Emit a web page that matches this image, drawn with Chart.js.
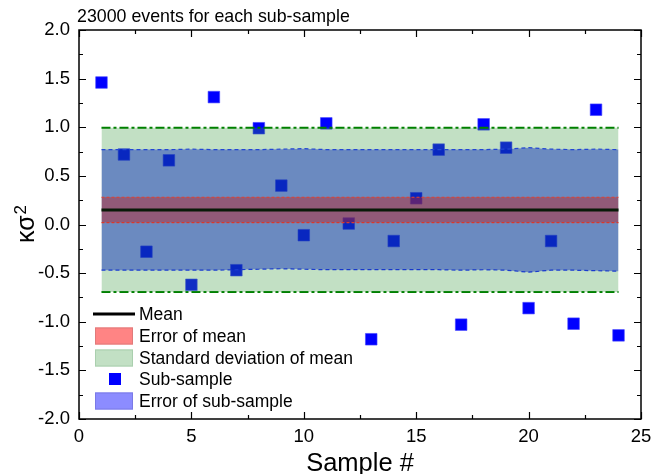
<!DOCTYPE html>
<html>
<head>
<meta charset="utf-8">
<title>kappa sigma^2 sub-samples</title>
<script src="https://cdn.jsdelivr.net/npm/chart.js@4.4.1/dist/chart.umd.min.js"></script>
<style>
  html, body { margin: 0; padding: 0; background: #fff; }
  #wrap { width: 655px; height: 474px; }
</style>
</head>
<body>
<div id="wrap"><canvas id="kappaChart" width="655" height="474"></canvas></div>
<script>
// sub-sample index and the measured kappa*sigma^2 for each one
const sampleNo = [1, 2, 3, 4, 5, 6, 7, 8, 9, 10, 11, 12, 13, 14, 15, 16, 17, 18, 19, 20, 21, 22, 23, 24];
const subSample = [1.46, 0.72, -0.28, 0.66, -0.62, 1.31, -0.47, 0.99, 0.40, -0.11, 1.04, 0.01,
                   -1.18, -0.17, 0.27, 0.77, -1.03, 1.03, 0.79, -0.86, -0.17, -1.02, 1.18, -1.14];

// error band of the sub-samples (upper / lower edge per sample)
const subErrHi = [0.77, 0.77, 0.77, 0.77, 0.775, 0.77, 0.77, 0.77, 0.775, 0.78, 0.77, 0.77,
                  0.77, 0.77, 0.77, 0.77, 0.77, 0.77, 0.775, 0.79, 0.775, 0.77, 0.775, 0.77];
const subErrLo = [-0.47, -0.47, -0.47, -0.47, -0.47, -0.47, -0.465, -0.46, -0.455, -0.46, -0.465, -0.465,
                  -0.465, -0.465, -0.465, -0.465, -0.47, -0.465, -0.47, -0.49, -0.47, -0.47, -0.475, -0.48];

// mean, its error and its standard deviation
const meanVal = 0.15;
const meanErr = [0.28, 0.02];
const meanStd = [0.995, -0.695];

const xTicks = [0, 5, 10, 15, 20, 25];
const yTicks = [-2.0, -1.5, -1.0, -0.5, 0.0, 0.5, 1.0, 1.5, 2.0];

const FONT = "'Liberation Sans', Arial, sans-serif";

const pts = ys => sampleNo.map((x, i) => ({ x, y: ys[i] }));
const flat = v => [{ x: sampleNo[0], y: v }, { x: sampleNo[sampleNo.length - 1], y: v }];

const bandLine = (data, color, dash, width, extra) => Object.assign({
  data,
  borderColor: color,
  borderDash: dash,
  borderWidth: width,
  pointRadius: 0,
  fill: false,
  tension: 0
}, extra);

const legendItems = [
  { kind: 'line', color: '#000000', label: 'Mean', y: 314 },
  { kind: 'box', color: '#ff8484', stroke: '#e07a7a', label: 'Error of mean', y: 336 },
  { kind: 'box', color: '#c2e0c4', stroke: '#aacfae', label: 'Standard deviation of mean', y: 358 },
  { kind: 'square', color: '#0000ff', label: 'Sub-sample', y: 379 },
  { kind: 'box', color: '#8c8cff', stroke: '#7a7ae6', label: 'Error of sub-sample', y: 401 }
];

// frame, inward ticks, title, axis titles and the legend
const decorations = {
  id: 'decorations',
  afterDraw(chart) {
    const { ctx, chartArea: a, scales: { x, y } } = chart;
    ctx.save();

    // frame and inward tick marks
    ctx.strokeStyle = '#000';
    ctx.lineWidth = 1.5;
    ctx.strokeRect(a.left, a.top, a.right - a.left, a.bottom - a.top);
    ctx.lineWidth = 1.2;
    ctx.beginPath();
    for (let v = x.min; v <= x.max + 1e-9; v += 2.5) {
      const px = Math.round(x.getPixelForValue(v)) + 0.5;
      const len = Math.abs(v % 5) < 1e-9 ? 7 : 4;
      ctx.moveTo(px, a.bottom); ctx.lineTo(px, a.bottom - len);
      ctx.moveTo(px, a.top); ctx.lineTo(px, a.top + len);
    }
    for (let v = y.min; v <= y.max + 1e-9; v += 0.25) {
      const py = Math.round(y.getPixelForValue(v)) + 0.5;
      const len = Math.abs((v * 2) % 1) < 1e-9 ? 7 : 4;
      ctx.moveTo(a.left, py); ctx.lineTo(a.left + len, py);
      ctx.moveTo(a.right, py); ctx.lineTo(a.right - len, py);
    }
    ctx.stroke();

    ctx.fillStyle = '#000';

    // title
    ctx.font = '17.8px ' + FONT;
    ctx.textAlign = 'left';
    ctx.textBaseline = 'alphabetic';
    ctx.fillText('23000 events for each sub-sample', 77, 22);

    // x axis title
    ctx.font = '25.5px ' + FONT;
    ctx.textAlign = 'center';
    ctx.fillText('Sample #', (a.left + a.right) / 2, 471);

    // y axis title with superscript
    ctx.save();
    ctx.translate(34, 243);
    ctx.rotate(-Math.PI / 2);
    ctx.textAlign = 'left';
    ctx.font = '25px ' + FONT;
    ctx.fillText('κσ', 0, 0);
    const w = ctx.measureText('κσ').width;
    ctx.font = '17px ' + FONT;
    ctx.fillText('2', w + 1, -8);
    ctx.restore();

    // legend
    ctx.font = '17.5px ' + FONT;
    ctx.textAlign = 'left';
    ctx.textBaseline = 'middle';
    legendItems.forEach(item => {
      if (item.kind === 'line') {
        ctx.strokeStyle = item.color;
        ctx.lineWidth = 3;
        ctx.beginPath();
        ctx.moveTo(93, item.y); ctx.lineTo(135, item.y);
        ctx.stroke();
      } else if (item.kind === 'box') {
        ctx.fillStyle = item.color;
        ctx.fillRect(95, item.y - 8.5, 38, 17);
        ctx.strokeStyle = item.stroke;
        ctx.lineWidth = 1;
        ctx.strokeRect(95.5, item.y - 8, 37, 16);
      } else {
        ctx.fillStyle = item.color;
        ctx.fillRect(109, item.y - 6, 12, 12);
      }
      ctx.fillStyle = '#000';
      ctx.fillText(item.label, 139, item.y + 1);
    });

    ctx.restore();
  }
};

new Chart(document.getElementById('kappaChart'), {
  type: 'line',
  data: {
    datasets: [
      // drawn last (lowest order) -> on top
      bandLine(flat(meanVal), '#081a08', [], 3, { order: 0 }),
      bandLine(flat(meanErr[0]), '#e3402c', [3, 2], 1.2,
        { order: 1, fill: '+1', backgroundColor: 'rgba(190, 30, 30, 0.45)' }),
      bandLine(flat(meanErr[1]), '#e3402c', [3, 2], 1.2, { order: 2 }),
      bandLine(pts(subErrHi), '#2346d4', [4, 3], 1.2,
        { order: 3, fill: '+1', backgroundColor: 'rgba(0, 32, 187, 0.443)' }),
      bandLine(pts(subErrLo), '#2346d4', [4, 3], 1.2, { order: 4 }),
      bandLine(flat(meanStd[0]), '#008000', [9, 3, 3, 3], 2,
        { order: 5, fill: '+1', backgroundColor: 'rgba(52, 152, 58, 0.3)' }),
      bandLine(flat(meanStd[1]), '#008000', [9, 3, 3, 3], 2, { order: 6 }),
      {
        label: 'Sub-sample',
        data: pts(subSample),
        showLine: false,
        pointStyle: 'rect',
        pointRadius: 8.2,
        pointBackgroundColor: '#0000ff',
        pointBorderColor: 'rgba(70, 70, 255, 0.6)',
        pointBorderWidth: 1,
        order: 7
      }
    ]
  },
  options: {
    responsive: false,
    animation: false,
    layout: { padding: { top: 30, right: 14, left: 0, bottom: 0 } },
    plugins: {
      legend: { display: false },
      tooltip: { enabled: false },
      title: { display: false }
    },
    scales: {
      x: {
        type: 'linear',
        min: 0,
        max: 25,
        afterBuildTicks: s => { s.ticks = xTicks.map(v => ({ value: v })); },
        afterFit: s => { s.height = 55; s.paddingLeft = 0; s.paddingRight = 0; },
        grid: { display: false, drawTicks: false },
        border: { display: false },
        ticks: { color: '#000', font: { family: FONT, size: 18.5 }, padding: 7, maxRotation: 0 }
      },
      y: {
        type: 'linear',
        min: -2,
        max: 2,
        afterBuildTicks: s => { s.ticks = yTicks.map(v => ({ value: v })); },
        afterFit: s => { s.width = 79; s.paddingTop = 0; s.paddingBottom = 0; },
        grid: { display: false, drawTicks: false },
        border: { display: false },
        ticks: {
          color: '#000',
          font: { family: FONT, size: 18.5 },
          padding: 9,
          callback: v => v.toFixed(1)
        }
      }
    }
  },
  plugins: [decorations]
});
</script>
</body>
</html>
